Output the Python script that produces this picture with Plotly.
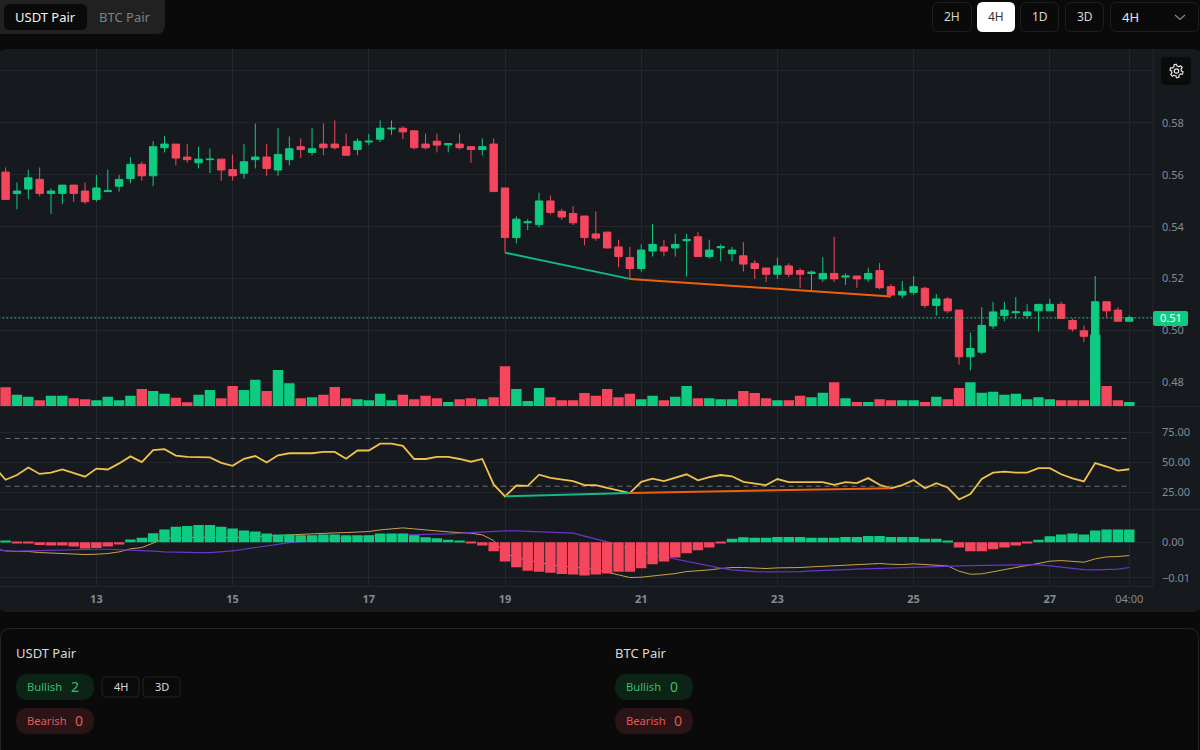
import math
import plotly.graph_objects as go

# --- candle data (4H bars, x is the bar index) ---
opens = [.5610,.5528,.5545,.5582,.5528,.5528,.5560,.5537,.5505,.5535,.5556,.5585,.5640,.5596,.5704,.5718,.5668,.5646,.5658,.5660,
         .5620,.5606,.5658,.5668,.5618,.5658,.5708,.5686,.5718,.5718,.5708,.5697,.5726,.5737,.5776,.5779,.5769,.5718,.5729,.5715,
         .5718,.5708,.5697,.5718,.5549,.5358,.5415,.5408,.5499,.5459,.5451,.5441,.5372,.5379,.5322,.5281,.5239,.5306,.5322,.5318,
         .5346,.5361,.5285,.5319,.5296,.5288,.5259,.5241,.5217,.5249,.5231,.5220,.5199,.5220,.5206,.5210,.5199,.5231,.5169,.5137,
         .5147,.5163,.5097,.5122,.5079,.4899,.4917,.5018,.5058,.5069,.5058,.5076,.5076,.5101,.5039,.4999,.4978,.5111,.5079,.5036]
highs = [.5628,.5570,.5620,.5628,.5547,.5560,.5560,.5570,.5599,.5620,.5599,.5668,.5650,.5729,.5749,.5718,.5718,.5708,.5701,.5660,
         .5678,.5718,.5797,.5718,.5779,.5747,.5740,.5779,.5797,.5809,.5758,.5740,.5758,.5809,.5809,.5787,.5769,.5758,.5758,.5720,
         .5758,.5708,.5740,.5740,.5549,.5440,.5429,.5531,.5520,.5469,.5479,.5441,.5459,.5379,.5350,.5322,.5332,.5411,.5350,.5372,
         .5372,.5379,.5350,.5332,.5322,.5340,.5271,.5241,.5281,.5259,.5240,.5231,.5282,.5361,.5220,.5210,.5242,.5260,.5179,.5191,
         .5210,.5169,.5141,.5129,.5079,.4992,.5090,.5111,.5111,.5129,.5101,.5101,.5122,.5111,.5046,.5020,.5210,.5111,.5090,.5058]
lows = [.5505,.5467,.5506,.5517,.5449,.5487,.5496,.5488,.5496,.5535,.5535,.5567,.5577,.5556,.5686,.5636,.5646,.5624,.5606,.5577,
        .5577,.5585,.5624,.5596,.5596,.5636,.5664,.5675,.5675,.5697,.5675,.5675,.5714,.5726,.5754,.5737,.5697,.5697,.5686,.5686,
        .5697,.5646,.5675,.5535,.5300,.5336,.5387,.5397,.5447,.5426,.5406,.5328,.5346,.5318,.5245,.5201,.5227,.5285,.5285,.5285,
        .5208,.5285,.5278,.5267,.5267,.5227,.5199,.5187,.5199,.5206,.5165,.5154,.5187,.5187,.5176,.5165,.5187,.5159,.5133,.5125,
        .5137,.5087,.5058,.5068,.4869,.4847,.4909,.5006,.5036,.5046,.5046,.4996,.5076,.5047,.4996,.4956,.4977,.5050,.5036,.5036]
closes = [.5505,.5537,.5588,.5528,.5537,.5560,.5528,.5496,.5549,.5538,.5582,.5640,.5596,.5708,.5718,.5664,.5658,.5660,.5660,.5618,
          .5596,.5650,.5668,.5624,.5678,.5700,.5697,.5700,.5704,.5704,.5675,.5729,.5729,.5779,.5779,.5765,.5704,.5704,.5714,.5720,
          .5704,.5697,.5708,.5535,.5358,.5429,.5419,.5499,.5455,.5437,.5415,.5358,.5356,.5318,.5285,.5239,.5310,.5332,.5306,.5332,
          .5351,.5285,.5310,.5323,.5310,.5256,.5239,.5217,.5249,.5217,.5217,.5225,.5220,.5199,.5210,.5199,.5220,.5165,.5137,.5151,
          .5169,.5097,.5122,.5076,.4899,.4931,.5020,.5072,.5079,.5072,.5072,.5101,.5101,.5047,.5006,.4978,.5111,.5076,.5036,.5050]
volumes = [56,34,28,17,31,31,23,20,17,28,17,31,51,45,37,25,11,34,48,23,
           60,48,79,45,108,68,23,26,34,57,23,20,17,37,17,34,20,31,23,12,
           20,23,20,26,119,51,15,54,26,17,17,39,31,51,26,37,20,31,17,28,
           60,23,23,20,20,45,39,23,17,17,31,26,40,71,23,12,12,20,17,17,
           17,12,28,20,54,71,40,43,34,37,20,26,20,17,17,17,214,60,17,12]
last_price = 0.5049

# --- indicators, the first value is one bar left of the window ---
rsi = [46.2,35.4,39.4,45.7,40.3,41.4,44.0,40.8,38.0,44.8,44.0,49.1,55.0,50.2,60.2,61.0,55.6,54.5,54.2,54.2,49.6,
       47.1,53.0,55.3,49.9,55.9,57.6,57.6,57.6,58.7,58.7,53.0,59.9,59.9,65.6,65.6,63.8,52.8,52.8,54.5,54.5,
       52.8,50.5,52.8,31.5,21.5,30.6,30.3,39.7,36.9,35.4,34.3,30.9,30.9,28.6,26.6,24.3,33.7,36.3,34.3,37.4,
       40.0,34.9,37.7,39.4,38.3,33.7,32.6,30.9,36.0,33.4,33.4,33.4,33.4,31.2,33.4,32.6,36.8,31.2,28.3,30.9,
       35.1,28.3,32.6,28.9,18.9,23.5,36.0,41.4,42.2,41.4,41.4,45.1,45.1,40.0,36.6,34.0,49.4,46.5,43.1,44.2]
macd = [-.00187,-.00243,-.00262,-.00262,-.0029,-.00309,-.00309,-.00328,-.00346,-.00337,-.00318,-.00271,-.00187,-.0015,-.00019,.00103,.00122,.0014,.0014,.0014,.00131,
        .00131,.0014,.0015,.00169,.00187,.00206,.00225,.00234,.00243,.00262,.00271,.00281,.003,.00346,.00374,.00402,.00374,.00337,.00318,.0029,
        .00271,.00253,.00206,.00047,-.00318,-.00431,-.00505,-.0058,-.00636,-.00674,-.00692,-.0073,-.00768,-.00842,-.00917,-.00992,-.00983,-.00955,-.00927,-.0088,
        -.00824,-.00805,-.00777,-.00739,-.00711,-.00711,-.00721,-.00739,-.00721,-.00721,-.00711,-.00692,-.00674,-.00665,-.00646,-.00627,-.00599,-.00599,-.00618,-.00627,
        -.00608,-.00627,-.00636,-.00665,-.00814,-.00899,-.00889,-.00824,-.00758,-.00711,-.00655,-.0059,-.00534,-.00515,-.00534,-.00562,-.00468,-.00412,-.00402,-.00374]
signal = [-.00206,-.00243,-.00253,-.00243,-.00234,-.00225,-.00215,-.00206,-.00197,-.00197,-.00197,-.00206,-.00215,-.00234,-.00253,-.00271,-.00281,-.0029,-.0029,-.0029,-.00271,
          -.00243,-.00197,-.0015,-.00103,-.00047,-.00009,.00019,.00047,.00075,.00103,.00122,.0014,.00169,.00187,.00197,.00215,.00215,.00215,.00225,.00234,
          .00253,.00271,.0029,.00309,.00318,.00318,.00309,.003,.0029,.00271,.00253,.00169,.00094,.00009,-.00094,-.00187,-.00271,-.00346,-.00412,-.00487,
          -.00552,-.00608,-.00674,-.0073,-.00777,-.00805,-.00824,-.00833,-.00833,-.00833,-.00824,-.00805,-.00786,-.00777,-.00768,-.00758,-.00749,-.00749,-.00739,-.0073,
          -.00721,-.00711,-.00692,-.00674,-.00665,-.00655,-.00646,-.00636,-.00636,-.00636,-.00636,-.00636,-.00665,-.00702,-.00749,-.00768,-.00777,-.00777,-.00758,-.00711]
hist = [.00028,-.00028,-.00028,-.00075,-.00094,-.00094,-.00122,-.00178,-.00159,-.00122,-.00066,.00075,.00122,.00253,.00356,.00431,.00459,.00487,.00487,.00431,
        .00384,.00328,.003,.00243,.00215,.00215,.00197,.00197,.00215,.00215,.00197,.00197,.00197,.00243,.00243,.00243,.00197,.0014,.00112,.00066,
        .00037,-.00037,-.00094,-.00253,-.00543,-.00702,-.00805,-.00833,-.00861,-.0089,-.00908,-.00936,-.00908,-.0088,-.00833,-.00833,-.0073,-.00618,-.00543,-.00431,
        -.00309,-.00225,-.0015,-.00037,.00094,.0014,.00122,.00122,.0015,.0015,.0015,.00122,.00122,.00122,.0015,.0015,.00178,.00178,.0015,.0015,
        .0015,.00094,.00094,.00037,-.0015,-.00253,-.00253,-.00197,-.0015,-.00094,-.00037,.00066,.00169,.00215,.00243,.00215,.00328,.00356,.00356,.00356]

# divergence segments: bar index and value at each end
price_div_bull = ([44, 55], [.5300, .5199])
price_div_bear = ([55, 78], [.5199, .5131])
rsi_div_bull = ([44, 55], [21.5, 24.3])
rsi_div_bear = ([55, 78], [24.3, 28.3])

# axis labels
x_tickvals = [8, 20, 32, 44, 56, 68, 80, 92, 99]
x_ticktext = ['<b>13</b>', '<b>15</b>', '<b>17</b>', '<b>19</b>', '<b>21</b>', '<b>23</b>', '<b>25</b>', '<b>27</b>', '04:00']
price_ticks = [.48, .50, .52, .54, .56, .58, .60]
price_labels = ['0.48', '0.50', '0.52', '0.54', '0.56', '0.58', '']
rsi_ticks = [25, 50, 75]
rsi_labels = ['25.00', '50.00', '75.00']
macd_ticks = [-.01, 0]
macd_labels = ['\u22120.01', '0.00']

GREEN = '#0ecb81'
RED = '#f6465d'
PAGE = '#0a0a0a'
PANEL = '#161a1e'
GRID = '#23272d'
AXIS_TXT = '#848a93'
FONT = 'Noto Sans'
W, H = 1200, 750
AXIS_X = 1153

bars = list(range(100))
bars_ext = list(range(-1, 100))
bar_colors = [GREEN if c >= o else RED for o, c in zip(opens, closes)]
hist_colors = [GREEN if v >= 0 else RED for v in hist]


# the page furniture is placed in screen pixels
def fx(x):
    return x / W


def fy(y):
    return 1 - y / H


def round_rect(x0, y0, x1, y1, r, fill, line=None):
    p = (f'M{fx(x0 + r)},{fy(y0)} L{fx(x1 - r)},{fy(y0)} Q{fx(x1)},{fy(y0)} {fx(x1)},{fy(y0 + r)} '
         f'L{fx(x1)},{fy(y1 - r)} Q{fx(x1)},{fy(y1)} {fx(x1 - r)},{fy(y1)} '
         f'L{fx(x0 + r)},{fy(y1)} Q{fx(x0)},{fy(y1)} {fx(x0)},{fy(y1 - r)} '
         f'L{fx(x0)},{fy(y0 + r)} Q{fx(x0)},{fy(y0)} {fx(x0 + r)},{fy(y0)} Z')
    return dict(type='path', path=p, xref='paper', yref='paper', fillcolor=fill, layer='below',
                line=dict(color=line or 'rgba(0,0,0,0)', width=1))


def label(x, y, text, color, size=12, anchor='left'):
    # annotations carry about 2px of padding on the anchored side
    x = x - 2 if anchor == 'left' else x
    return dict(x=fx(x), y=fy(y), xref='paper', yref='paper', text=text, showarrow=False,
                xanchor=anchor, yanchor='middle', font=dict(family=FONT, size=size, color=color))


def hline(y, x0, x1):
    return dict(type='line', xref='paper', yref='paper', x0=fx(x0), x1=fx(x1), y0=fy(y), y1=fy(y),
                line=dict(color=GRID, width=1), layer='below')


fig = go.Figure()

# price pane
fig.add_trace(go.Candlestick(
    x=bars, open=opens, high=highs, low=lows, close=closes, xaxis='x', yaxis='y',
    increasing=dict(line=dict(color=GREEN, width=1), fillcolor=GREEN),
    decreasing=dict(line=dict(color=RED, width=1), fillcolor=RED),
    whiskerwidth=0, hoverinfo='skip', showlegend=False))
fig.add_trace(go.Scatter(x=[bars_ext[0], 102], y=[last_price, last_price], mode='lines', yaxis='y',
                         line=dict(color=GREEN, width=1, dash='2px,2px'), showlegend=False))
fig.add_trace(go.Scatter(x=price_div_bull[0], y=price_div_bull[1], mode='lines', yaxis='y',
                         line=dict(color='#12b886', width=2), showlegend=False))
fig.add_trace(go.Scatter(x=price_div_bear[0], y=price_div_bear[1], mode='lines', yaxis='y',
                         line=dict(color='#f0600c', width=2), showlegend=False))

# volume sits on top of the candles
fig.add_trace(go.Bar(x=bars, y=volumes, yaxis='y4', marker=dict(color=bar_colors, line_width=0), showlegend=False))

# RSI pane
fig.add_trace(go.Scatter(x=[0, 99], y=[70, 70], mode='lines', yaxis='y2',
                         line=dict(color='#70757d', width=1, dash='5px,4px'), showlegend=False))
fig.add_trace(go.Scatter(x=[0, 99], y=[30, 30], mode='lines', yaxis='y2',
                         line=dict(color='#70757d', width=1, dash='5px,4px'), showlegend=False))
fig.add_trace(go.Scatter(x=bars_ext, y=rsi, mode='lines', yaxis='y2',
                         line=dict(color='#f0c14b', width=1.8), showlegend=False))
fig.add_trace(go.Scatter(x=rsi_div_bull[0], y=rsi_div_bull[1], mode='lines', yaxis='y2',
                         line=dict(color='#12b886', width=2), showlegend=False))
fig.add_trace(go.Scatter(x=rsi_div_bear[0], y=rsi_div_bear[1], mode='lines', yaxis='y2',
                         line=dict(color='#f0600c', width=2), showlegend=False))

# MACD pane, histogram over the lines
fig.add_trace(go.Scatter(x=bars_ext, y=macd, mode='lines', yaxis='y3',
                         line=dict(color='#c9a24a', width=1), showlegend=False))
fig.add_trace(go.Scatter(x=bars_ext, y=signal, mode='lines', yaxis='y3',
                         line=dict(color='#6a35c9', width=1.2), showlegend=False))
fig.add_trace(go.Bar(x=bars, y=hist, yaxis='y5', marker=dict(color=hist_colors, line_width=0), showlegend=False))

# page furniture
shapes = [
    round_rect(-2, 49, W + 2, 612, 10, PANEL),
    hline(406.7, 0, W), hline(509.5, 0, W), hline(586.5, 0, AXIS_X),
    dict(type='line', xref='paper', yref='paper', x0=fx(AXIS_X), x1=fx(AXIS_X), y0=fy(49), y1=fy(586.5),
         line=dict(color=GRID, width=1), layer='below'),
    round_rect(-8, -10, 165, 34, 9, '#212121'),
    round_rect(4, 4, 87, 30, 6, '#0a0a0a'),
    round_rect(932.5, 2.5, 971.5, 31.5, 6, PAGE, '#1f1f1f'),
    round_rect(977, 2, 1015, 32, 6, '#ffffff'),
    round_rect(1020.5, 2.5, 1058.5, 31.5, 6, PAGE, '#1f1f1f'),
    round_rect(1065.5, 2.5, 1103.5, 31.5, 6, PAGE, '#1f1f1f'),
    round_rect(1110.5, 2.5, 1198.5, 31.5, 6, PAGE, '#1f1f1f'),
    dict(type='path', path=f'M{fx(1175)},{fy(15)} L{fx(1180)},{fy(19.5)} L{fx(1185)},{fy(15)}',
         xref='paper', yref='paper', line=dict(color='#8a8a8a', width=1.2)),
    round_rect(1161, 57, 1191, 85, 5, '#0b0b0b'),
    round_rect(0.5, 628.5, 1198.5, 760, 10, '#0a0a0a', '#23262a'),
    round_rect(16, 674, 94, 700, 13, '#0c2416'),
    round_rect(16, 708, 94, 734, 13, '#2a1415'),
    round_rect(102, 677, 139, 697, 4, PAGE, '#222222'),
    round_rect(143, 677, 180, 697, 4, PAGE, '#222222'),
    round_rect(615, 674, 693, 700, 13, '#0c2416'),
    round_rect(615, 708, 693, 734, 13, '#2a1415'),
    round_rect(1153, 311, 1188, 326, 2, GREEN),
]
for s in shapes[-1:]:
    s['layer'] = 'above'

# settings gear
gear = []
for k in range(48):
    a = 2 * math.pi * k / 48
    r = 6.6 if (k % 8) in (1, 2, 3, 4) else 4.9
    gear.append((1176.5 + r * math.cos(a), 71 + r * math.sin(a)))
gear_path = 'M' + ' L'.join(f'{fx(a)},{fy(b)}' for a, b in gear) + ' Z'
shapes.append(dict(type='path', path=gear_path, xref='paper', yref='paper', line=dict(color='#e6e6e6', width=1.2)))
shapes.append(dict(type='circle', xref='paper', yref='paper', x0=fx(1174.3), x1=fx(1178.7), y0=fy(73.2), y1=fy(68.8),
                   line=dict(color='#e6e6e6', width=1.2)))

annotations = [
    label(15, 17, 'USDT Pair', '#f2f2f2', 13),
    label(99, 17, 'BTC Pair', '#7f7f7f', 13),
    label(951.5, 16.5, '2H', '#d6d6d6', 12, 'center'),
    label(996, 16.5, '4H', '#333333', 12, 'center'),
    label(1039.5, 16.5, '1D', '#d6d6d6', 12, 'center'),
    label(1084.5, 16.5, '3D', '#d6d6d6', 12, 'center'),
    label(1122, 16.5, '4H', '#e6e6e6', 13),
    label(1170.5, 318, '0.51', '#ffffff', 11, 'center'),
    label(16, 653, 'USDT Pair', '#d9d9d9', 13),
    label(615, 653, 'BTC Pair', '#d9d9d9', 13),
    label(27, 686, 'Bullish', '#3dbb6c', 11.2),
    label(70.5, 686, '2', '#3dbb6c', 14),
    label(27, 720, 'Bearish', '#e05a5a', 11.2),
    label(75, 720, '0', '#e05a5a', 14),
    label(120.5, 686.5, '4H', '#d9d9d9', 11, 'center'),
    label(161.5, 686.5, '3D', '#d9d9d9', 11, 'center'),
    label(626, 686, 'Bullish', '#3dbb6c', 11.2),
    label(669.5, 686, '0', '#3dbb6c', 14),
    label(626, 720, 'Bearish', '#e05a5a', 11.2),
    label(674, 720, '0', '#e05a5a', 14),
]


def value_axis(lo, hi, top, bottom, ticks, labels):
    return dict(domain=[fy(bottom), fy(top)], range=[lo, hi], side='right', anchor='x',
                tickmode='array', tickvals=ticks, ticktext=labels,
                ticklabelstandoff=8, ticks='', showline=False, zeroline=False,
                gridcolor=GRID, gridwidth=1,
                tickfont=dict(family=FONT, size=11, color=AXIS_TXT))


fig.update_layout(
    width=W, height=H, margin=dict(l=0, r=0, t=0, b=0),
    paper_bgcolor=PAGE, plot_bgcolor='rgba(0,0,0,0)',
    bargap=0.08, boxgap=0.35, boxgroupgap=0, showlegend=False, hovermode=False,
    shapes=shapes, annotations=annotations,
    xaxis=dict(domain=[0, fx(AXIS_X)], range=[-0.493, 101.09], anchor='y3', rangeslider=dict(visible=False),
               tickmode='array', tickvals=x_tickvals, ticktext=x_ticktext, gridcolor=GRID, gridwidth=1,
               zeroline=False, showline=False, ticks='', ticklabelstandoff=4,
               tickfont=dict(family=FONT, size=11, color=AXIS_TXT)),
    yaxis=value_axis(.4707, .6084, 49, 406.7, price_ticks, price_labels),
    yaxis2=value_axis(10.5, 96.6, 406.7, 509.5, rsi_ticks, rsi_labels),
    yaxis3=value_axis(-.01244, .00919, 509.5, 586.5, macd_ticks, macd_labels),
    yaxis4=dict(overlaying='y', range=[-2, 1071], visible=False, anchor='x', side='right'),
    yaxis5=dict(overlaying='y3', range=[-.01244, .00919], visible=False, anchor='x', side='right'),
)

fig.write_html("out.html", config={'displayModeBar': False}, post_script="document.body.style.margin='0';")
